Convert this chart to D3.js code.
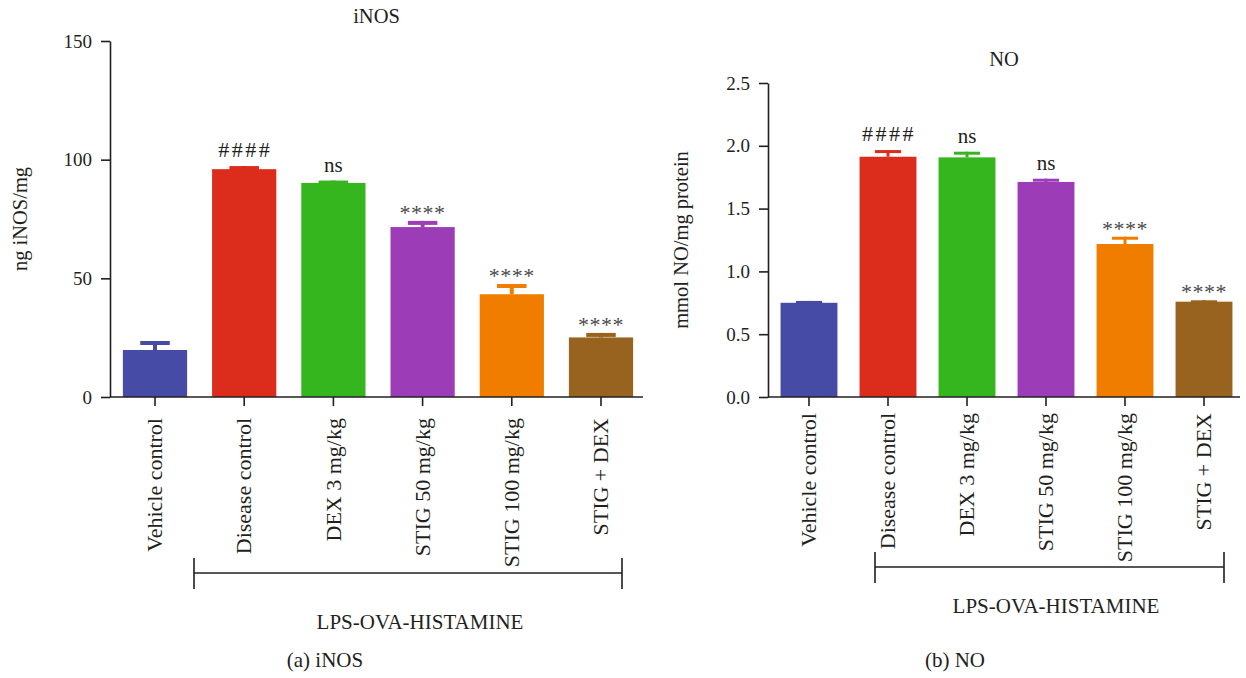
<!DOCTYPE html>
<html>
<head>
<meta charset="utf-8">
<script src="https://cdn.jsdelivr.net/npm/d3@7"></script>
<style>
  html, body { margin: 0; padding: 0; background: #fff; }
  svg { display: block; }
  text { font-family: "Liberation Serif", "Times New Roman", serif; fill: #231f20; }
</style>
</head>
<body>
<svg id="chart" width="1246" height="678"></svg>
<script>
// ---- data ----
const categories = ["Vehicle control", "Disease control", "DEX 3 mg/kg", "STIG 50 mg/kg", "STIG 100 mg/kg", "STIG + DEX"];
const colors = ["#464ca6", "#dc2d1c", "#36b61e", "#9c3db7", "#f07c00", "#97631f"];

const inosMean = [19.8, 96.0, 90.2, 71.6, 43.3, 25.1];
const inosSem  = [3.8, 1.3, 1.0, 2.6, 4.3, 1.9];
const inosSig  = ["", "####", "ns", "****", "****", "****"];
const inosTicks = [0, 50, 100, 150];

const noMean = [0.750, 1.913, 1.908, 1.712, 1.218, 0.759];
const noSem  = [0.015, 0.053, 0.045, 0.026, 0.058, 0.011];
const noSig  = ["", "####", "ns", "ns", "****", "****"];
const noTicks = [0, 0.5, 1.0, 1.5, 2.0, 2.5];

const svg = d3.select("#chart");

function panel(cfg) {
  const g = svg.append("g");
  const x = d3.scaleBand().domain(categories).range(cfg.xr).paddingInner(0.28).paddingOuter(0.14);
  const y = d3.scaleLinear().domain([0, cfg.ymax]).range(cfg.yr);

  // bars
  g.selectAll("rect.bar").data(categories).enter().append("rect")
    .attr("class", "bar")
    .attr("x", d => x(d))
    .attr("width", x.bandwidth())
    .attr("y", (d, i) => y(cfg.mean[i]))
    .attr("height", (d, i) => y(0) - y(cfg.mean[i]))
    .attr("fill", (d, i) => colors[i]);

  // error bars
  const capW = x.bandwidth() * 0.46;
  categories.forEach((d, i) => {
    const cx = x(d) + x.bandwidth() / 2;
    const top = y(cfg.mean[i] + cfg.sem[i]);
    g.append("line")
      .attr("x1", cx).attr("x2", cx)
      .attr("y1", y(cfg.mean[i])).attr("y2", top)
      .attr("stroke", colors[i]).attr("stroke-width", cfg.errW);
    g.append("line")
      .attr("x1", cx - capW / 2).attr("x2", cx + capW / 2)
      .attr("y1", top + cfg.errW / 2).attr("y2", top + cfg.errW / 2)
      .attr("stroke", colors[i]).attr("stroke-width", cfg.errW);
    const s = cfg.sig[i];
    if (s) {
      const isStar = s.startsWith("*");
      const isHash = s.startsWith("#");
      g.append("text")
        .attr("x", cx + (isHash ? 1 : 0))
        .attr("y", top - (isStar ? 1 : 9))
        .attr("text-anchor", "middle")
        .style("font-size", isStar ? "22px" : (isHash ? "22px" : "21px"))
        .style("letter-spacing", isHash ? "2.5px" : (isStar ? "0.5px" : "0px"))
        .style("fill", isStar ? "#4a4a4a" : "#231f20")
        .text(s);
    }
  });

  // y axis
  const ya = g.append("g")
    .attr("transform", `translate(${cfg.yAxisX},0)`)
    .call(d3.axisLeft(y).tickValues(cfg.ticks).tickFormat(cfg.fmt).tickSize(9).tickSizeOuter(0).tickPadding(9));
  ya.selectAll("text").style("font-size", "19px").style("fill", "#231f20");
  ya.selectAll("path, line").attr("stroke", "#231f20").attr("stroke-width", 1.6);

  // x axis
  const xa = g.append("g")
    .attr("transform", `translate(0,${y(0)})`)
    .call(d3.axisBottom(x).tickSize(9).tickSizeOuter(0));
  xa.select("path.domain").attr("d", `M${cfg.yAxisX},0H${cfg.xAxisEnd}`);
  xa.selectAll("path, line").attr("stroke", "#231f20").attr("stroke-width", 1.6);
  xa.selectAll("text")
    .style("font-size", "22px").style("fill", "#231f20")
    .attr("transform", "rotate(-90)")
    .attr("text-anchor", "end")
    .attr("x", -cfg.labelGap)
    .attr("y", 0)
    .attr("dy", "0.33em");

  // y label
  g.append("text")
    .attr("transform", `translate(${cfg.ylabX},${(cfg.yr[0] + cfg.yr[1]) / 2}) rotate(-90)`)
    .attr("text-anchor", "middle")
    .style("font-size", "20.5px")
    .text(cfg.ylabel);

  // title
  g.append("text")
    .attr("x", (cfg.yAxisX + cfg.xAxisEnd) / 2)
    .attr("y", cfg.titleY)
    .attr("text-anchor", "middle")
    .style("font-size", "20.5px")
    .text(cfg.title);

  // bracket
  const b = cfg.bracket;
  g.append("path")
    .attr("d", `M${b.x1},${b.y}H${b.x2}M${b.x1},${b.y - 15}V${b.y + 16}M${b.x2},${b.y - 15}V${b.y + 16}`)
    .attr("stroke", "#231f20").attr("stroke-width", 1.6).attr("fill", "none");
  g.append("text")
    .attr("x", b.tx).attr("y", b.ty)
    .attr("text-anchor", "middle")
    .style("font-size", "21px")
    .text("LPS-OVA-HISTAMINE");

  // caption
  g.append("text")
    .attr("x", cfg.capX).attr("y", 667)
    .attr("text-anchor", "middle")
    .style("font-size", "21px")
    .text(cfg.caption);
}

panel({
  xr: [110.4, 645.6], yr: [397, 41], ymax: 150,
  mean: inosMean, sem: inosSem, sig: inosSig, ticks: inosTicks, fmt: d3.format("d"),
  yAxisX: 110, xAxisEnd: 643, errW: 4, labelGap: 21,
  ylabX: 27, ylabel: "ng iNOS/mg", title: "iNOS", titleY: 23,
  bracket: { x1: 194, x2: 622, y: 573, tx: 420, ty: 629 },
  capX: 325, caption: "(a) iNOS"
});

panel({
  xr: [769.5, 1243.5], yr: [397, 83], ymax: 2.5,
  mean: noMean, sem: noSem, sig: noSig, ticks: noTicks, fmt: d3.format(".1f"),
  yAxisX: 768, xAxisEnd: 1240, errW: 3, labelGap: 16,
  ylabX: 688, ylabel: "mmol NO/mg protein", title: "NO", titleY: 66,
  bracket: { x1: 875, x2: 1224, y: 567, tx: 1056, ty: 613 },
  capX: 955, caption: "(b) NO"
});
</script>
</body>
</html>
